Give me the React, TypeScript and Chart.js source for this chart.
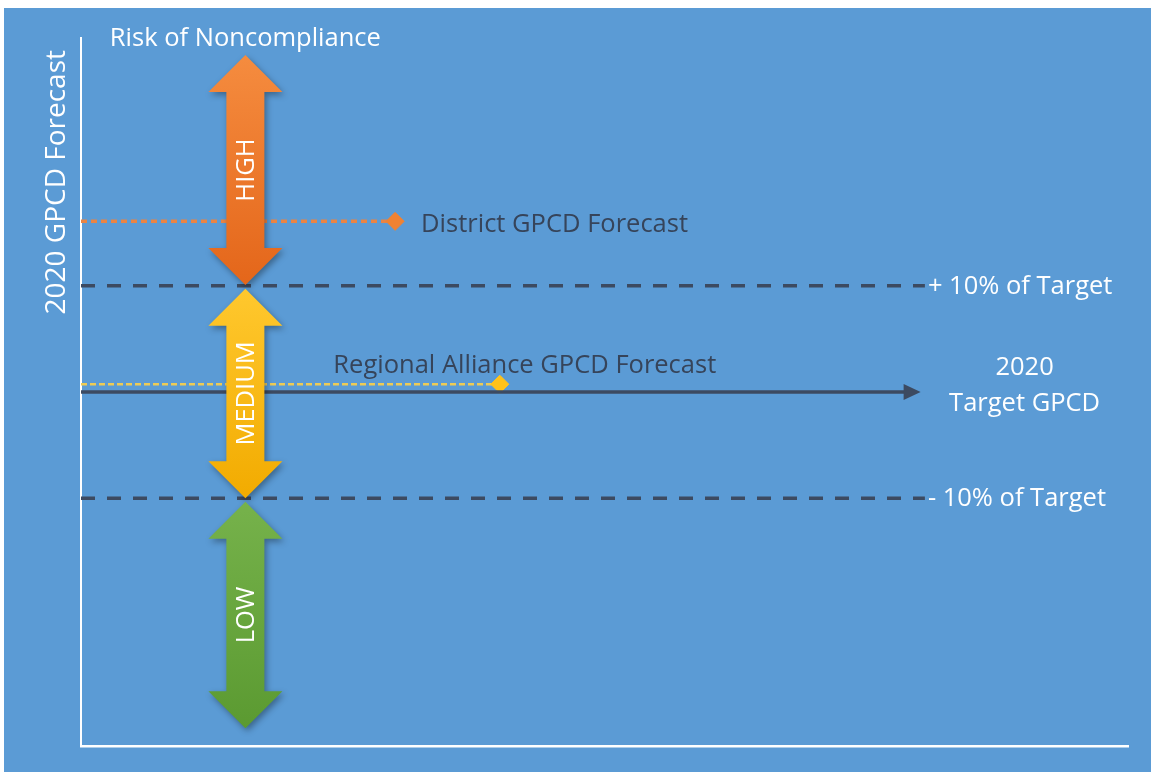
import React, { useEffect, useRef } from 'react';
import { Chart, registerables } from 'chart.js';

Chart.register(...registerables);

// ---------- data (chart units: both axes run 0..100) ----------
const riskLevels = ['HIGH', 'MEDIUM', 'LOW'];
const riskFrom = [65.1, 35.0, 2.5];
const riskTo = [97.6, 64.6, 34.5];
const riskAxisX = 15.7;

const bandLabels = ['+ 10% of Target', '- 10% of Target'];
const bandValues = [65, 35];
const bandEndX = 80.6;

const targetLabel = ['2020', 'Target GPCD'];
const targetValue = 50;
const targetEndX = 80;

const forecastLabels = ['District GPCD Forecast', 'Regional Alliance GPCD Forecast'];
const forecastValues = [74.1, 51.1];
const forecastX = [30, 40];

const yAxisTitle = '2020 GPCD Forecast';
const topTitle = 'Risk of Noncompliance';

// ---------- styles ----------
const FONT = '"Open Sans", Lato, sans-serif';
const NAVY = '#3C4A61';
const LABEL_DARK = '#36445A';
const riskColorTop = ['#F58C3F', '#FFC82E', '#76B24B'];
const riskColorBottom = ['#E4661A', '#F2AB00', '#5B9A31'];
const forecastColors = ['#EA8444', '#EDCB55'];

function drawDoubleArrow(ctx: CanvasRenderingContext2D, cx: number, yTop: number, yBot: number, shaftW: number, headW: number, headL: number) {
  ctx.beginPath();
  ctx.moveTo(cx, yTop);
  ctx.lineTo(cx + headW / 2, yTop + headL);
  ctx.lineTo(cx + shaftW / 2, yTop + headL);
  ctx.lineTo(cx + shaftW / 2, yBot - headL);
  ctx.lineTo(cx + headW / 2, yBot - headL);
  ctx.lineTo(cx, yBot);
  ctx.lineTo(cx - headW / 2, yBot - headL);
  ctx.lineTo(cx - shaftW / 2, yBot - headL);
  ctx.lineTo(cx - shaftW / 2, yTop + headL);
  ctx.lineTo(cx - headW / 2, yTop + headL);
  ctx.closePath();
}

const diagramPlugin = {
  id: 'diagram',
  afterDatasetsDraw(chart: any) {
    const ctx: CanvasRenderingContext2D = chart.ctx;
    const xs = chart.scales.x;
    const ys = chart.scales.y;
    const area = chart.chartArea;

    // target arrow head
    const tx = xs.getPixelForValue(targetEndX);
    const ty = ys.getPixelForValue(targetValue);
    ctx.save();
    ctx.fillStyle = NAVY;
    ctx.beginPath();
    ctx.moveTo(tx + 2, ty);
    ctx.lineTo(tx - 15, ty - 8);
    ctx.lineTo(tx - 15, ty + 8);
    ctx.closePath();
    ctx.fill();
    ctx.restore();

    // risk arrows
    const cx = xs.getPixelForValue(riskAxisX);
    riskLevels.forEach((lvl, i) => {
      const yTop = ys.getPixelForValue(riskTo[i]);
      const yBot = ys.getPixelForValue(riskFrom[i]);
      ctx.save();
      const g = ctx.createLinearGradient(0, yTop, 0, yBot);
      g.addColorStop(0, riskColorTop[i]);
      g.addColorStop(1, riskColorBottom[i]);
      ctx.fillStyle = g;
      ctx.shadowColor = 'rgba(0,0,0,0.35)';
      ctx.shadowBlur = 6;
      ctx.shadowOffsetX = 2;
      ctx.shadowOffsetY = 3;
      drawDoubleArrow(ctx, cx, yTop, yBot, 38, 74, 37);
      ctx.fill();
      ctx.restore();

      ctx.save();
      ctx.translate(cx, (yTop + yBot) / 2);
      ctx.rotate(-Math.PI / 2);
      ctx.fillStyle = '#FFFFFF';
      ctx.font = `25.5px ${FONT}`;
      ctx.textAlign = 'center';
      ctx.textBaseline = 'middle';
      ctx.fillText(lvl, 0, 1);
      ctx.restore();
    });

    ctx.save();
    ctx.textBaseline = 'middle';
    ctx.font = `25.5px ${FONT}`;

    // band labels
    ctx.fillStyle = '#FFFFFF';
    ctx.textAlign = 'left';
    bandLabels.forEach((t, i) => {
      ctx.fillText(t, xs.getPixelForValue(bandEndX) + 3, ys.getPixelForValue(bandValues[i]) + 1);
    });

    // target label
    ctx.textAlign = 'center';
    targetLabel.forEach((t, i) => {
      ctx.fillText(t, tx + 106, ty - 24 + i * 36);
    });

    // forecast labels
    ctx.fillStyle = LABEL_DARK;
    ctx.textAlign = 'left';
    ctx.fillText(forecastLabels[0], xs.getPixelForValue(forecastX[0]) + 26, ys.getPixelForValue(forecastValues[0]) + 3);
    ctx.textAlign = 'center';
    ctx.fillText(forecastLabels[1], xs.getPixelForValue(forecastX[1]) + 25, ys.getPixelForValue(forecastValues[1]) - 18);

    // top title
    ctx.fillStyle = '#FFFFFF';
    ctx.fillText(topTitle, cx, area.top + 1);

    // y axis title
    ctx.font = `28px ${FONT}`;
    ctx.translate(area.left - 24, area.top + 12);
    ctx.rotate(-Math.PI / 2);
    ctx.textAlign = 'right';
    ctx.fillText(yAxisTitle, 0, 0);
    ctx.restore();
  },
};

export default function App() {
  const ref = useRef<HTMLCanvasElement | null>(null);

  useEffect(() => {
    if (!ref.current) return;
    const line = (x: number, y: number) => [{ x: 0, y }, { x, y }];
    const chart = new Chart(ref.current, {
      type: 'scatter',
      data: {
        datasets: [
          {
            label: bandLabels[0],
            data: line(bandEndX, bandValues[0]),
            showLine: true,
            borderColor: NAVY,
            borderWidth: 3.5,
            borderDash: [14, 12],
            pointRadius: 0,
          },
          {
            label: bandLabels[1],
            data: line(bandEndX, bandValues[1]),
            showLine: true,
            borderColor: NAVY,
            borderWidth: 3.5,
            borderDash: [14, 12],
            pointRadius: 0,
          },
          {
            label: targetLabel.join(' '),
            data: line(targetEndX - 1.2, targetValue),
            showLine: true,
            borderColor: NAVY,
            borderWidth: 3.5,
            pointRadius: 0,
          },
          {
            label: forecastLabels[0],
            data: line(forecastX[0], forecastValues[0]),
            showLine: true,
            borderColor: forecastColors[0],
            borderWidth: 3.5,
            borderDash: [6, 4],
            pointStyle: 'rectRot',
            pointRadius: [0, 9],
            pointBackgroundColor: '#F08232',
            pointBorderColor: '#F08232',
            pointBorderWidth: 1,
          },
          {
            label: forecastLabels[1],
            data: line(forecastX[1], forecastValues[1]),
            showLine: true,
            borderColor: forecastColors[1],
            borderWidth: 2.5,
            borderDash: [6, 3],
            pointStyle: 'rectRot',
            pointRadius: [0, 9],
            pointBackgroundColor: '#FFC21A',
            pointBorderColor: '#FFC21A',
            pointBorderWidth: 1,
          },
        ],
      },
      options: {
        animation: false,
        responsive: false,
        layout: { padding: { left: 69, top: 30, right: 23, bottom: 18 } },
        plugins: {
          legend: { display: false },
          tooltip: { enabled: false },
        },
        scales: {
          x: {
            type: 'linear',
            min: 0,
            max: 100,
            ticks: { display: false },
            grid: { display: false },
            border: { display: true, color: '#FFFFFF', width: 2.5 },
          },
          y: {
            type: 'linear',
            min: 0,
            max: 100,
            ticks: { display: false },
            grid: { display: false },
            border: { display: true, color: '#FFFFFF', width: 2 },
          },
        },
      },
      plugins: [diagramPlugin],
    });
    return () => chart.destroy();
  }, []);

  return (
    <div
      style={{
        position: 'fixed',
        left: 4,
        top: 8,
        width: 1147,
        height: 764,
        background: '#5B9BD5',
      }}
    >
      <canvas ref={ref} width={1147} height={764} style={{ display: 'block' }} />
    </div>
  );
}
